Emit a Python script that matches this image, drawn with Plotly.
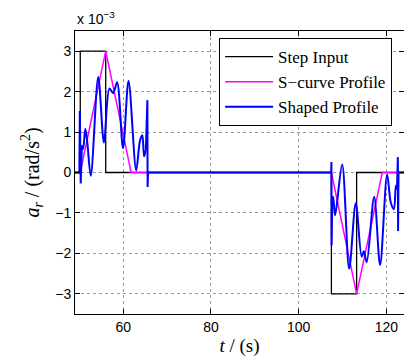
import plotly.graph_objects as go

# Step input
step_t = [49, 50.2, 50.2, 56.0, 56.0, 107.45, 107.45, 113.2, 113.2, 124]
step_v = [0, 0, 3, 3, 0, 0, -3, -3, 0, 0]

# S-curve profile
scurve_t = [49, 50.2, 56.0, 61.8, 107.45, 113.2, 119.05, 124]
scurve_v = [0, 0, 3, 0, 0, -3, 0, 0]

# Shaped profile
shaped_t = [49, 50.0, 50.1, 50.3, 50.58, 50.85, 51.35, 51.8, 52.6, 54.3, 55.6,
            56.85, 57.7, 58.6, 59.95, 61.2, 62.95, 63.8, 64.35, 64.75, 65.15,
            65.5, 65.55, 65.65, 107.4, 107.45, 107.5, 107.65, 107.85, 108.3,
            109.9, 111.5, 113.0, 114.35, 114.85, 115.5, 117.2, 118.55, 120.15,
            121.0, 121.7, 122.15, 122.4, 122.6, 122.65, 122.75, 124]
shaped_v = [0, 0, 1.52, -0.27, 0.67, 0.58, 1.08, 0.75, -0.08, 2.36, 0.74,
            2.08, 1.96, 2.23, 0.6, 2.27, 0.05, 0.78, 0.92, 0.4, 0.55,
            1.79, -0.36, 0, 0, 0.26, -1.8, -0.69, -0.6, -1.06,
            0.2, -2.38, -0.76, -2.08, -1.95, -2.22, -0.6, -2.29, -0.05,
            -0.75, -0.91, -0.32, -0.42, 0.38, -1.45, 0, 0]

xticks = [60, 80, 100, 120]
yticks = [-3, -2, -1, 0, 1, 2, 3]

SERIF = "Liberation Serif"
SANS = "Liberation Sans"

fig = go.Figure()
fig.add_trace(go.Scatter(x=step_t, y=step_v, mode="lines", name="Step Input",
                         line=dict(color="#000000", width=1.3)))
fig.add_trace(go.Scatter(x=scurve_t, y=scurve_v, mode="lines", name="S\u2212curve Profile",
                         line=dict(color="#ff00ff", width=1.5)))

# Shaped profile: sharp spikes and flat parts drawn straight, oscillations smoothed
seg_bounds = [(0, 4, "linear"), (4, 20, "spline"), (20, 27, "linear"),
              (27, 42, "spline"), (42, 46, "linear")]
for i, (a, b, shp) in enumerate(seg_bounds):
    fig.add_trace(go.Scatter(
        x=shaped_t[a:b + 1],
        y=shaped_v[a:b + 1],
        mode="lines", name="Shaped Profile", legendgroup="shaped",
        showlegend=(i == 0),
        line=dict(color="#0000ff", width=2, shape=shp, smoothing=0.9)))

axis_common = dict(
    showline=True, linecolor="black", linewidth=1, mirror="allticks",
    ticks="inside", ticklen=5, tickcolor="black",
    showgrid=True, gridcolor="#9a9a9a", griddash="dot", gridwidth=1,
    zeroline=False,
    tickfont=dict(family=SANS, size=14, color="black"),
)

fig.update_xaxes(range=[49, 124], tickvals=xticks, **axis_common,
                 title=dict(text="<i>t</i> / (s)",
                            font=dict(family=SERIF, size=19, color="black"),
                            standoff=4))
fig.update_yaxes(range=[-3.5, 3.5], tickvals=yticks, **axis_common,
                 title=dict(text="<i>a</i><sub><i>r</i></sub> / (rad/s<sup>2</sup>)",
                            font=dict(family=SERIF, size=20, color="black"),
                            standoff=10))

fig.add_annotation(x=0, y=1, xref="paper", yref="paper", xanchor="left", yanchor="bottom",
                   text="x 10<sup>\u22123</sup>", showarrow=False, yshift=2,
                   font=dict(family=SANS, size=14, color="black"))

fig.update_layout(
    width=404, height=358,
    margin=dict(l=75, r=0, t=31, b=44),
    plot_bgcolor="white", paper_bgcolor="white",
    showlegend=True,
    legend=dict(x=0.438, y=0.975, xanchor="left", yanchor="top",
                bgcolor="white", bordercolor="black", borderwidth=1,
                itemwidth=48,
                font=dict(family=SERIF, size=17, color="black"),
                tracegroupgap=0),
)

fig.write_html("out.html")
